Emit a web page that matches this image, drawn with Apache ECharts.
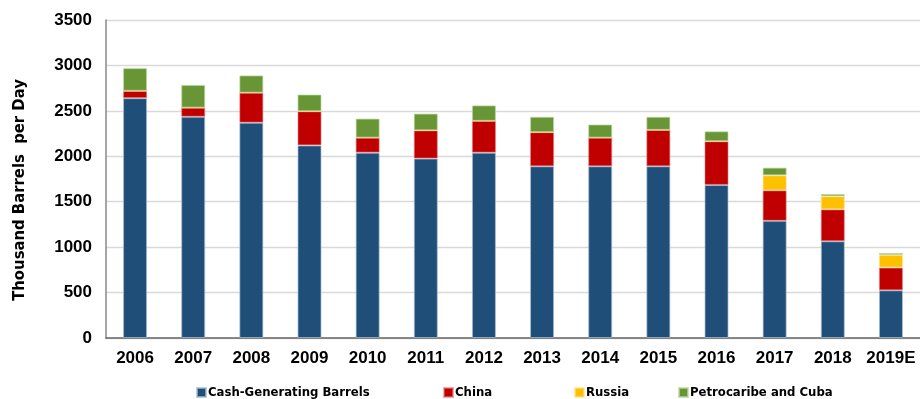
<!DOCTYPE html>
<html>
<head>
<meta charset="utf-8">
<script src="https://cdn.jsdelivr.net/npm/echarts@6/dist/echarts.min.js"></script>
<style>
  html, body { margin: 0; padding: 0; background: #fff; }
  #chart { width: 920px; height: 399px; }
</style>
</head>
<body>
<div id="chart"></div>
<script>
// Venezuelan oil exports by destination, thousand barrels per day
const years = ['2006', '2007', '2008', '2009', '2010', '2011', '2012', '2013', '2014', '2015', '2016', '2017', '2018', '2019E'];
const cashBarrels = [2640, 2435, 2370, 2120, 2040, 1975, 2040, 1890, 1890, 1890, 1685, 1290, 1065, 525];
const china       = [80, 100, 330, 375, 165, 310, 350, 375, 315, 400, 480, 335, 350, 250];
const russia      = [0, 0, 0, 0, 0, 0, 0, 0, 0, 0, 0, 165, 145, 140];
const petrocaribe = [250, 250, 190, 185, 210, 185, 170, 170, 145, 145, 110, 85, 25, 20];
const seriesNames = ['Cash-Generating Barrels', 'China', 'Russia', 'Petrocaribe and Cuba'];
const yTicks = { min: 0, max: 3500, interval: 500 };

const narrow = "'Liberation Sans Narrow', 'DejaVu Sans Condensed', sans-serif";
const bold = "'Liberation Sans', Arial, sans-serif";

function stackSeries(name, data, color, edge) {
  return {
    name: name,
    type: 'bar',
    stack: 'total',
    data: data,
    barWidth: 24,
    itemStyle: { color: color, borderColor: edge, borderWidth: 1 },
    emphasis: { disabled: true }
  };
}

// one legend entry per block so each key sits at its own spot
const legendLefts = [191, 438, 569, 673];
const legends = seriesNames.map((name, i) => ({
  bottom: -5,
  left: legendLefts[i],
  itemWidth: 9,
  itemHeight: 9,
  icon: 'rect',
  textStyle: { fontFamily: narrow, fontWeight: 'bold', fontSize: 13, color: '#000', padding: [0, 0, 0, -3] },
  data: [name]
}));

const chart = echarts.init(document.getElementById('chart'), null, { renderer: 'canvas' });
chart.setOption({
  animation: false,
  backgroundColor: '#ffffff',
  grid: { left: 106, top: 20, width: 818, height: 318, containLabel: false },
  legend: legends,
  xAxis: {
    type: 'category',
    data: years,
    axisLine: { lineStyle: { color: '#666', width: 1.5 } },
    axisTick: { show: false },
    axisLabel: { interval: 0, fontFamily: bold, fontWeight: 'bold', fontSize: 17, color: '#000', margin: 12 }
  },
  yAxis: {
    type: 'value',
    min: yTicks.min,
    max: yTicks.max,
    interval: yTicks.interval,
    name: 'Thousand Barrels  per Day',
    nameLocation: 'middle',
    nameGap: 78,
    nameTextStyle: { fontFamily: narrow, fontWeight: 'bold', fontSize: 16.5, color: '#000', padding: [0, 22, 0, 0] },
    axisLine: { show: true, lineStyle: { color: '#888', width: 1.5 } },
    axisTick: { show: false },
    splitLine: { lineStyle: { color: '#d9d9d9', width: 1.3 } },
    axisLabel: { formatter: v => String(v), fontFamily: bold, fontWeight: 'bold', fontSize: 17, color: '#000', margin: 14 }
  },
  series: [
    stackSeries(seriesNames[0], cashBarrels, '#1f4e79', 'rgba(170,190,210,0.7)'),
    stackSeries(seriesNames[1], china, '#c00000', 'rgba(230,120,120,0.6)'),
    stackSeries(seriesNames[2], russia, '#ffc000', 'rgba(255,225,140,0.6)'),
    stackSeries(seriesNames[3], petrocaribe, '#689636', 'rgba(190,215,160,0.7)')
  ]
});
</script>
</body>
</html>
